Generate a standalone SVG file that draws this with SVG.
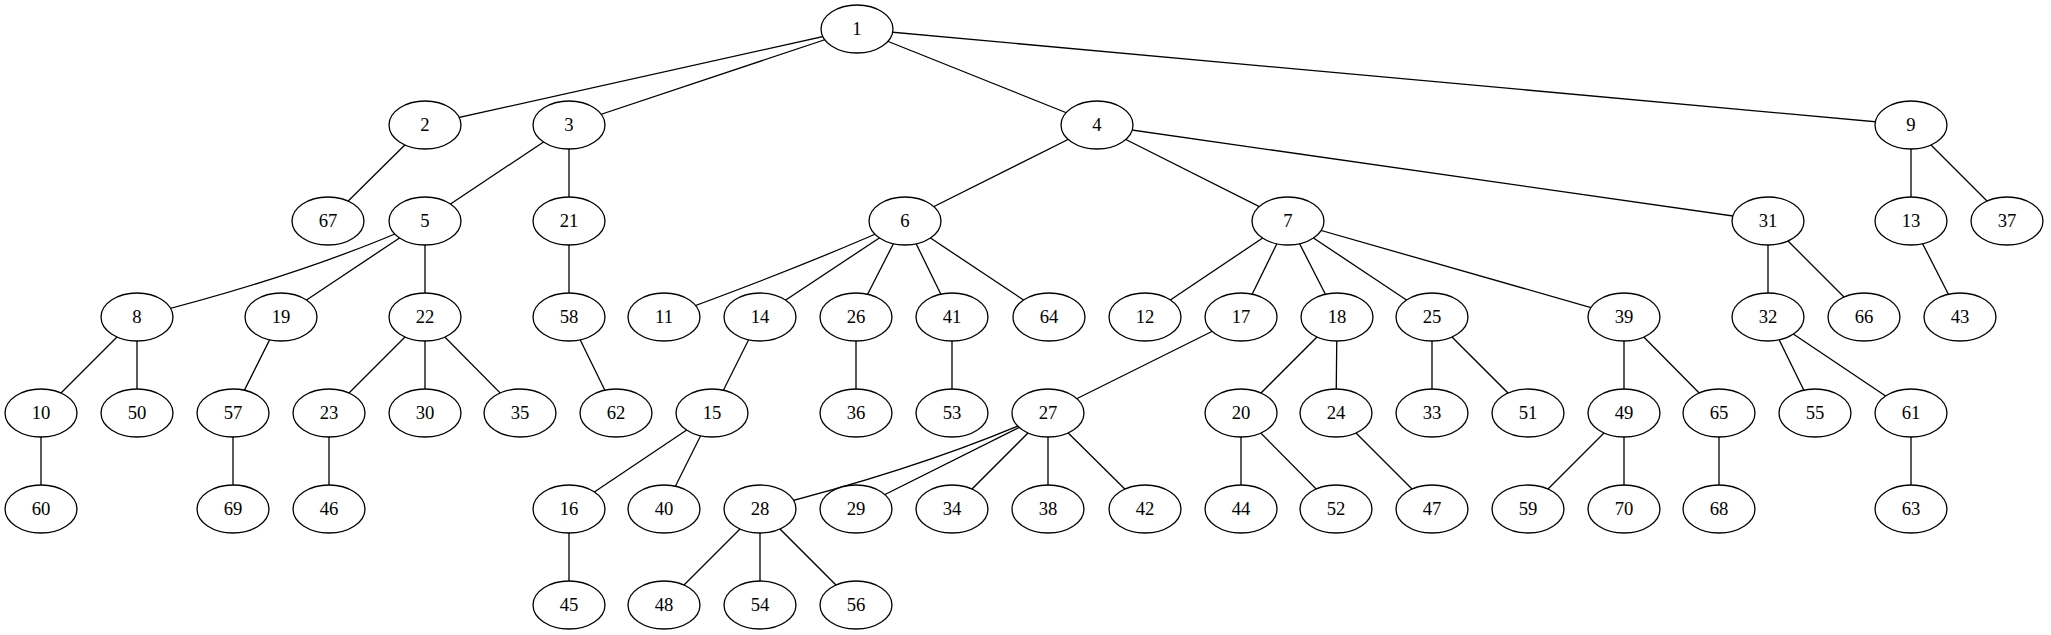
<svg xmlns="http://www.w3.org/2000/svg" width="2051" height="635" viewBox="0 0 2051 635">
<style>
.e{stroke:#000;stroke-width:1.3;fill:none}
.n ellipse{fill:#fff;stroke:#000;stroke-width:1.3}
.n text{font-family:"Liberation Serif","Times New Roman",serif;font-size:18.67px;text-anchor:middle;fill:#000}
</style>
<rect width="2051" height="635" fill="#fff"/>
<g id="edges">
<line class="e" x1="857" y1="29" x2="425" y2="125"/>
<line class="e" x1="857" y1="29" x2="569" y2="125"/>
<line class="e" x1="857" y1="29" x2="1097" y2="125"/>
<line class="e" x1="857" y1="29" x2="1911" y2="125"/>
<line class="e" x1="425" y1="125" x2="328" y2="221"/>
<line class="e" x1="569" y1="125" x2="425" y2="221"/>
<line class="e" x1="569" y1="125" x2="569" y2="221"/>
<line class="e" x1="1097" y1="125" x2="905" y2="221"/>
<line class="e" x1="1097" y1="125" x2="1288" y2="221"/>
<line class="e" x1="1097" y1="125" x2="1768" y2="221"/>
<line class="e" x1="1911" y1="125" x2="1911" y2="221"/>
<line class="e" x1="1911" y1="125" x2="2007" y2="221"/>
<path class="e" d="M425,221 Q305,275 137,317"/>
<line class="e" x1="425" y1="221" x2="281" y2="317"/>
<line class="e" x1="425" y1="221" x2="425" y2="317"/>
<line class="e" x1="569" y1="221" x2="569" y2="317"/>
<path class="e" d="M905,221 Q805,266 664,317"/>
<line class="e" x1="905" y1="221" x2="760" y2="317"/>
<line class="e" x1="905" y1="221" x2="856" y2="317"/>
<line class="e" x1="905" y1="221" x2="952" y2="317"/>
<line class="e" x1="905" y1="221" x2="1049" y2="317"/>
<line class="e" x1="1288" y1="221" x2="1145" y2="317"/>
<line class="e" x1="1288" y1="221" x2="1241" y2="317"/>
<line class="e" x1="1288" y1="221" x2="1337" y2="317"/>
<line class="e" x1="1288" y1="221" x2="1432" y2="317"/>
<line class="e" x1="1288" y1="221" x2="1624" y2="317"/>
<line class="e" x1="1768" y1="221" x2="1768" y2="317"/>
<line class="e" x1="1768" y1="221" x2="1864" y2="317"/>
<line class="e" x1="1911" y1="221" x2="1960" y2="317"/>
<line class="e" x1="137" y1="317" x2="41" y2="413"/>
<line class="e" x1="137" y1="317" x2="137" y2="413"/>
<line class="e" x1="281" y1="317" x2="233" y2="413"/>
<line class="e" x1="425" y1="317" x2="329" y2="413"/>
<line class="e" x1="425" y1="317" x2="425" y2="413"/>
<line class="e" x1="425" y1="317" x2="520" y2="413"/>
<line class="e" x1="569" y1="317" x2="616" y2="413"/>
<line class="e" x1="760" y1="317" x2="712" y2="413"/>
<line class="e" x1="856" y1="317" x2="856" y2="413"/>
<line class="e" x1="952" y1="317" x2="952" y2="413"/>
<line class="e" x1="1241" y1="317" x2="1048" y2="413"/>
<line class="e" x1="1337" y1="317" x2="1241" y2="413"/>
<line class="e" x1="1337" y1="317" x2="1336" y2="413"/>
<line class="e" x1="1432" y1="317" x2="1432" y2="413"/>
<line class="e" x1="1432" y1="317" x2="1528" y2="413"/>
<line class="e" x1="1624" y1="317" x2="1624" y2="413"/>
<line class="e" x1="1624" y1="317" x2="1719" y2="413"/>
<line class="e" x1="1768" y1="317" x2="1815" y2="413"/>
<line class="e" x1="1768" y1="317" x2="1911" y2="413"/>
<line class="e" x1="41" y1="413" x2="41" y2="509"/>
<line class="e" x1="233" y1="413" x2="233" y2="509"/>
<line class="e" x1="329" y1="413" x2="329" y2="509"/>
<line class="e" x1="712" y1="413" x2="569" y2="509"/>
<line class="e" x1="712" y1="413" x2="664" y2="509"/>
<path class="e" d="M1048,413 Q928,467 760,509"/>
<line class="e" x1="1048" y1="413" x2="856" y2="509"/>
<line class="e" x1="1048" y1="413" x2="952" y2="509"/>
<line class="e" x1="1048" y1="413" x2="1048" y2="509"/>
<line class="e" x1="1048" y1="413" x2="1145" y2="509"/>
<line class="e" x1="1241" y1="413" x2="1241" y2="509"/>
<line class="e" x1="1241" y1="413" x2="1336" y2="509"/>
<line class="e" x1="1336" y1="413" x2="1432" y2="509"/>
<line class="e" x1="1624" y1="413" x2="1528" y2="509"/>
<line class="e" x1="1624" y1="413" x2="1624" y2="509"/>
<line class="e" x1="1719" y1="413" x2="1719" y2="509"/>
<line class="e" x1="1911" y1="413" x2="1911" y2="509"/>
<line class="e" x1="569" y1="509" x2="569" y2="605"/>
<line class="e" x1="760" y1="509" x2="664" y2="605"/>
<line class="e" x1="760" y1="509" x2="760" y2="605"/>
<line class="e" x1="760" y1="509" x2="856" y2="605"/>
</g>
<g id="n1" class="n"><ellipse cx="857" cy="29" rx="36" ry="24"/><text x="857" y="35">1</text></g>
<g id="n2" class="n"><ellipse cx="425" cy="125" rx="36" ry="24"/><text x="425" y="131">2</text></g>
<g id="n3" class="n"><ellipse cx="569" cy="125" rx="36" ry="24"/><text x="569" y="131">3</text></g>
<g id="n4" class="n"><ellipse cx="1097" cy="125" rx="36" ry="24"/><text x="1097" y="131">4</text></g>
<g id="n9" class="n"><ellipse cx="1911" cy="125" rx="36" ry="24"/><text x="1911" y="131">9</text></g>
<g id="n67" class="n"><ellipse cx="328" cy="221" rx="36" ry="24"/><text x="328" y="227">67</text></g>
<g id="n5" class="n"><ellipse cx="425" cy="221" rx="36" ry="24"/><text x="425" y="227">5</text></g>
<g id="n21" class="n"><ellipse cx="569" cy="221" rx="36" ry="24"/><text x="569" y="227">21</text></g>
<g id="n6" class="n"><ellipse cx="905" cy="221" rx="36" ry="24"/><text x="905" y="227">6</text></g>
<g id="n7" class="n"><ellipse cx="1288" cy="221" rx="36" ry="24"/><text x="1288" y="227">7</text></g>
<g id="n31" class="n"><ellipse cx="1768" cy="221" rx="36" ry="24"/><text x="1768" y="227">31</text></g>
<g id="n13" class="n"><ellipse cx="1911" cy="221" rx="36" ry="24"/><text x="1911" y="227">13</text></g>
<g id="n37" class="n"><ellipse cx="2007" cy="221" rx="36" ry="24"/><text x="2007" y="227">37</text></g>
<g id="n8" class="n"><ellipse cx="137" cy="317" rx="36" ry="24"/><text x="137" y="323">8</text></g>
<g id="n19" class="n"><ellipse cx="281" cy="317" rx="36" ry="24"/><text x="281" y="323">19</text></g>
<g id="n22" class="n"><ellipse cx="425" cy="317" rx="36" ry="24"/><text x="425" y="323">22</text></g>
<g id="n58" class="n"><ellipse cx="569" cy="317" rx="36" ry="24"/><text x="569" y="323">58</text></g>
<g id="n11" class="n"><ellipse cx="664" cy="317" rx="36" ry="24"/><text x="664" y="323">11</text></g>
<g id="n14" class="n"><ellipse cx="760" cy="317" rx="36" ry="24"/><text x="760" y="323">14</text></g>
<g id="n26" class="n"><ellipse cx="856" cy="317" rx="36" ry="24"/><text x="856" y="323">26</text></g>
<g id="n41" class="n"><ellipse cx="952" cy="317" rx="36" ry="24"/><text x="952" y="323">41</text></g>
<g id="n64" class="n"><ellipse cx="1049" cy="317" rx="36" ry="24"/><text x="1049" y="323">64</text></g>
<g id="n12" class="n"><ellipse cx="1145" cy="317" rx="36" ry="24"/><text x="1145" y="323">12</text></g>
<g id="n17" class="n"><ellipse cx="1241" cy="317" rx="36" ry="24"/><text x="1241" y="323">17</text></g>
<g id="n18" class="n"><ellipse cx="1337" cy="317" rx="36" ry="24"/><text x="1337" y="323">18</text></g>
<g id="n25" class="n"><ellipse cx="1432" cy="317" rx="36" ry="24"/><text x="1432" y="323">25</text></g>
<g id="n39" class="n"><ellipse cx="1624" cy="317" rx="36" ry="24"/><text x="1624" y="323">39</text></g>
<g id="n32" class="n"><ellipse cx="1768" cy="317" rx="36" ry="24"/><text x="1768" y="323">32</text></g>
<g id="n66" class="n"><ellipse cx="1864" cy="317" rx="36" ry="24"/><text x="1864" y="323">66</text></g>
<g id="n43" class="n"><ellipse cx="1960" cy="317" rx="36" ry="24"/><text x="1960" y="323">43</text></g>
<g id="n10" class="n"><ellipse cx="41" cy="413" rx="36" ry="24"/><text x="41" y="419">10</text></g>
<g id="n50" class="n"><ellipse cx="137" cy="413" rx="36" ry="24"/><text x="137" y="419">50</text></g>
<g id="n57" class="n"><ellipse cx="233" cy="413" rx="36" ry="24"/><text x="233" y="419">57</text></g>
<g id="n23" class="n"><ellipse cx="329" cy="413" rx="36" ry="24"/><text x="329" y="419">23</text></g>
<g id="n30" class="n"><ellipse cx="425" cy="413" rx="36" ry="24"/><text x="425" y="419">30</text></g>
<g id="n35" class="n"><ellipse cx="520" cy="413" rx="36" ry="24"/><text x="520" y="419">35</text></g>
<g id="n62" class="n"><ellipse cx="616" cy="413" rx="36" ry="24"/><text x="616" y="419">62</text></g>
<g id="n15" class="n"><ellipse cx="712" cy="413" rx="36" ry="24"/><text x="712" y="419">15</text></g>
<g id="n36" class="n"><ellipse cx="856" cy="413" rx="36" ry="24"/><text x="856" y="419">36</text></g>
<g id="n53" class="n"><ellipse cx="952" cy="413" rx="36" ry="24"/><text x="952" y="419">53</text></g>
<g id="n27" class="n"><ellipse cx="1048" cy="413" rx="36" ry="24"/><text x="1048" y="419">27</text></g>
<g id="n20" class="n"><ellipse cx="1241" cy="413" rx="36" ry="24"/><text x="1241" y="419">20</text></g>
<g id="n24" class="n"><ellipse cx="1336" cy="413" rx="36" ry="24"/><text x="1336" y="419">24</text></g>
<g id="n33" class="n"><ellipse cx="1432" cy="413" rx="36" ry="24"/><text x="1432" y="419">33</text></g>
<g id="n51" class="n"><ellipse cx="1528" cy="413" rx="36" ry="24"/><text x="1528" y="419">51</text></g>
<g id="n49" class="n"><ellipse cx="1624" cy="413" rx="36" ry="24"/><text x="1624" y="419">49</text></g>
<g id="n65" class="n"><ellipse cx="1719" cy="413" rx="36" ry="24"/><text x="1719" y="419">65</text></g>
<g id="n55" class="n"><ellipse cx="1815" cy="413" rx="36" ry="24"/><text x="1815" y="419">55</text></g>
<g id="n61" class="n"><ellipse cx="1911" cy="413" rx="36" ry="24"/><text x="1911" y="419">61</text></g>
<g id="n60" class="n"><ellipse cx="41" cy="509" rx="36" ry="24"/><text x="41" y="515">60</text></g>
<g id="n69" class="n"><ellipse cx="233" cy="509" rx="36" ry="24"/><text x="233" y="515">69</text></g>
<g id="n46" class="n"><ellipse cx="329" cy="509" rx="36" ry="24"/><text x="329" y="515">46</text></g>
<g id="n16" class="n"><ellipse cx="569" cy="509" rx="36" ry="24"/><text x="569" y="515">16</text></g>
<g id="n40" class="n"><ellipse cx="664" cy="509" rx="36" ry="24"/><text x="664" y="515">40</text></g>
<g id="n28" class="n"><ellipse cx="760" cy="509" rx="36" ry="24"/><text x="760" y="515">28</text></g>
<g id="n29" class="n"><ellipse cx="856" cy="509" rx="36" ry="24"/><text x="856" y="515">29</text></g>
<g id="n34" class="n"><ellipse cx="952" cy="509" rx="36" ry="24"/><text x="952" y="515">34</text></g>
<g id="n38" class="n"><ellipse cx="1048" cy="509" rx="36" ry="24"/><text x="1048" y="515">38</text></g>
<g id="n42" class="n"><ellipse cx="1145" cy="509" rx="36" ry="24"/><text x="1145" y="515">42</text></g>
<g id="n44" class="n"><ellipse cx="1241" cy="509" rx="36" ry="24"/><text x="1241" y="515">44</text></g>
<g id="n52" class="n"><ellipse cx="1336" cy="509" rx="36" ry="24"/><text x="1336" y="515">52</text></g>
<g id="n47" class="n"><ellipse cx="1432" cy="509" rx="36" ry="24"/><text x="1432" y="515">47</text></g>
<g id="n59" class="n"><ellipse cx="1528" cy="509" rx="36" ry="24"/><text x="1528" y="515">59</text></g>
<g id="n70" class="n"><ellipse cx="1624" cy="509" rx="36" ry="24"/><text x="1624" y="515">70</text></g>
<g id="n68" class="n"><ellipse cx="1719" cy="509" rx="36" ry="24"/><text x="1719" y="515">68</text></g>
<g id="n63" class="n"><ellipse cx="1911" cy="509" rx="36" ry="24"/><text x="1911" y="515">63</text></g>
<g id="n45" class="n"><ellipse cx="569" cy="605" rx="36" ry="24"/><text x="569" y="611">45</text></g>
<g id="n48" class="n"><ellipse cx="664" cy="605" rx="36" ry="24"/><text x="664" y="611">48</text></g>
<g id="n54" class="n"><ellipse cx="760" cy="605" rx="36" ry="24"/><text x="760" y="611">54</text></g>
<g id="n56" class="n"><ellipse cx="856" cy="605" rx="36" ry="24"/><text x="856" y="611">56</text></g>
</svg>
